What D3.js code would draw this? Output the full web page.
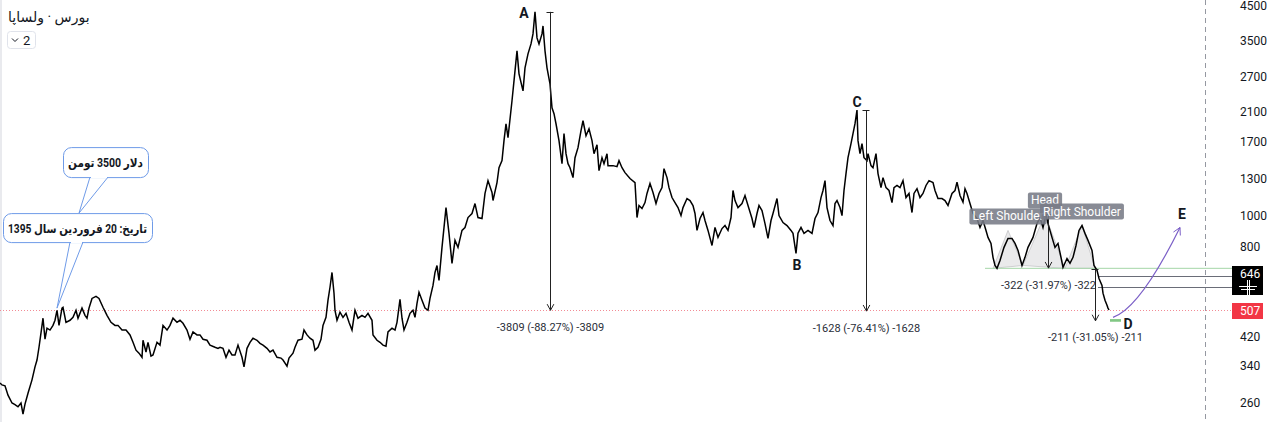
<!DOCTYPE html>
<html><head><meta charset="utf-8">
<script src="https://cdn.jsdelivr.net/npm/d3@7/dist/d3.min.js"></script>
<style>html,body{margin:0;padding:0;background:#fff;overflow:hidden}</style>
</head><body><svg id="c" width="1280" height="422"></svg>
<script>
// ---- data ----
const days=[0,2,5,8,12,15,18,21,23,25,28,32,35,37,39,41,43,45,47,50,53,55,57,59,62,63,66,70,73,76,78,82,85,87,89,92,96,99,103,107,111,115,118,122,126,130,133,136,139,142,143,146,148,151,153,157,160,163,167,170,173,177,180,183,187,190,193,197,200,203,207,210,215,218,
220,223,226,229,232,235,238,242,244,247,250,253,257,260,263,267,270,273,277,281,283,287,289,293,295,298,302,304,307,310,313,315,318,321,323,326,328,330,332,334,335,337,340,343,346,349,352,355,358,362,365,368,372,373,377,380,383,386,388,392,395,397,400,402,404,407,410,413,415,417,419,422,425,428,430,433,435,437,438,
439,442,446,449,452,455,458,462,465,468,472,475,478,482,485,488,492,493,497,499,502,504,506,508,512,514,517,519,523,525,528,531,533,535,537,539,542,543,545,547,550,552,554,556,559,562,564,566,568,570,573,575,578,581,583,586,589,592,594,597,599,602,604,607,608,613,617,619,622,625,630,635,637,639,642,645,647,650,653,656,659,662,664,667,669,672,675,678,681,683,687,690,693,695,697,700,
703,705,708,712,715,718,722,725,728,731,733,735,738,742,745,748,752,754,757,759,762,765,768,771,773,777,779,783,787,791,793,796,798,801,804,808,812,815,818,821,823,825,827,830,833,835,837,840,842,844,846,848,851,853,855,857,858,860,862,864,867,868,871,873,876,878,881,883,886,889,892,894,897,900,903,906,909,912,914,917,920,923,926,929,933,935,938,942,945,948,952,955,957,960,963,965,967,970,973,977,980,983,986,988,991,993,995,997,1000,1004,1008,1012,1015,1018,1022,1025,1028,1033,1037,1040,1043,1046,1048,1052,1055,1058,1061,1063,1067,1070,1073,1076,1079,1082,1085,1088,1092,1094,1097,1099,1102,1103,1105,1107,1108,1109];
const prices=[300,296,294,275,260,257,253,260,240,258,279,307,337,354,388,430,478,411,445,439,454,471,506,454,514,517,464,471,481,506,478,514,488,478,514,551,559,551,517,488,464,454,454,439,439,424,402,380,372,361,408,375,402,364,367,402,394,454,439,454,478,464,471,461,439,411,433,424,424,411,408,394,388,385,
388,385,361,380,367,367,394,361,337,385,402,414,408,399,394,385,375,380,361,359,354,339,359,372,388,408,411,439,424,414,408,380,388,411,454,481,544,597,664,572,506,471,499,481,495,464,439,506,478,488,481,495,471,424,408,402,394,391,433,445,439,464,547,478,439,464,495,506,481,532,576,544,514,506,551,605,664,698,660,
627,795,1058,879,709,836,795,898,917,985,1014,1089,985,978,1171,1284,1179,1113,1266,1410,1482,1711,1932,1748,2278,2629,3261,2765,2447,2886,3192,3427,3682,4315,3578,3427,3682,3899,3261,2886,2573,2166,2076,1932,1711,1450,1799,1558,1450,1409,1312,1514,1627,1838,1974,1773,1864,1711,1558,1660,1380,1514,1450,1558,1430,1430,1420,1482,1409,1360,1303,1266,985,1074,1051,1097,1171,1257,1179,1089,1171,1221,1399,1312,1221,1137,1097,1058,999,1058,1129,1113,1074,1014,898,978,
1021,964,898,806,917,854,910,930,898,985,1196,1113,1058,1089,1154,1074,978,917,1014,1074,1036,943,848,964,1014,1129,999,950,930,898,879,761,880,917,879,898,879,978,1021,1137,1196,1284,1058,964,930,1089,1113,1058,999,1196,1351,1514,1675,1799,1932,2131,1711,1558,1675,1514,1482,1558,1430,1409,1558,1351,1221,1312,1221,1196,1097,1221,1240,1221,1284,1137,1171,1021,1171,1212,1137,1171,1240,1284,1266,1196,1129,1129,1113,1074,1171,1196,1270,1154,1100,1212,1171,1089,1014,978,917,964,898,854,818,740,698,684,724,795,848,848,818,778,698,740,795,854,943,985,917,1007,943,854,795,818,740,689,734,709,740,806,898,930,879,836,778,698,674,636,605,572,544,525,514,507];
const yTicks=[4500,3500,2700,2100,1700,1300,1000,800,420,340,260];
const lastPrice=507;
const crossPrice=646;
const measDays=[550,866,1048,1095];
const measFrom=[4315,2131,1007,680];
const measTo=[506,503,685,469];
const measText=["-3809 (-88.27%) -3809","-1628 (-76.41%) -1628","-322 (-31.97%) -322","-211 (-31.05%) -211"];
const waveText=["A","B","C","D","E"];
const waveDays=[524,797,857,1128,1182];
const wavePrices=[4280,698,2262,458,1007];
const hsDays=[993,1008,1023,1045,1065,1082,1095];
const hsPrices=[684,898,698,1007,684,930,684];
const hsText=["Left Shoulder","Head","Right Shoulder"];
const necklineStart=985, necklinePrice=684;
const rangeStart=1098, rangeLines=[646,596];
const targetBox=[1110,1121,475,466];
const curveDays=[1113,1140,1180];
const curvePrices=[481,514,917];
const calloutDay=57, calloutPrice=514;
const calloutText=["دلار 3500 تومن","تاریخ: 20 فروردین سال 1395"];
const title="بورس · ولساپا";

// ---- setup ----
const svg=d3.select('#c');
const AX=1232;
const x=d3.scaleLinear().domain([0,1232]).range([0,1232]);
const y=d3.scaleLog().domain([4500,260]).range([6,403]);
const FONT="Roboto, 'DejaVu Sans', sans-serif";

svg.append('rect').attr('width',1280).attr('height',422).attr('fill','#fff');
svg.append('rect').attr('x',0).attr('y',0).attr('width',2).attr('height',422).attr('fill','#e9eaee');

// crosshair vertical
svg.append('line').attr('x1',1205.5).attr('x2',1205.5).attr('y1',0).attr('y2',422)
  .attr('stroke','#9598a1').attr('stroke-dasharray','5,4').attr('stroke-width',1);

// last price dotted line
svg.append('line').attr('x1',0).attr('x2',AX).attr('y1',Math.round(y(lastPrice))+0.5).attr('y2',Math.round(y(lastPrice))+0.5)
  .attr('stroke','#f28b95').attr('stroke-dasharray','1,2').attr('stroke-width',1);

// H&S triangles
const hs=svg.append('g');
[[0,1,2],[2,3,4],[4,5,6]].forEach(t=>{
  hs.append('path').attr('d','M'+t.map(i=>x(hsDays[i])+','+y(hsPrices[i])).join('L')+'Z')
    .attr('fill','rgba(170,170,175,0.25)').attr('stroke','rgba(160,160,165,0.45)').attr('stroke-width',1);
});

// neckline
svg.append('line').attr('x1',x(necklineStart)).attr('x2',AX).attr('y1',y(necklinePrice)).attr('y2',y(necklinePrice))
  .attr('stroke','#a5d6a7').attr('stroke-width',1);
rangeLines.forEach(p=>{
  svg.append('line').attr('x1',x(rangeStart)).attr('x2',AX).attr('y1',Math.round(y(p))+0.5).attr('y2',Math.round(y(p))+0.5)
   .attr('stroke','#6a6d78').attr('stroke-width',1);
});

// price series
const pts=days.map((d,i)=>[d,prices[i]]);
svg.append('path').datum(pts)
  .attr('d',d3.line().x(d=>x(d[0])).y(d=>y(d[1])))
  .attr('fill','none').attr('stroke','#000').attr('stroke-width',1.5).attr('stroke-linejoin','miter');

// arrowhead helper
function arrowHead(g,tx,ty,ang,L,a,color){
  const p1=[tx-L*Math.cos(ang-a),ty-L*Math.sin(ang-a)];
  const p2=[tx-L*Math.cos(ang+a),ty-L*Math.sin(ang+a)];
  g.append('path').attr('d',`M${p1}L${tx},${ty}L${p2}`).attr('fill','none').attr('stroke',color).attr('stroke-width',1);
}

// measurements
const mg=svg.append('g');
measDays.forEach((d,i)=>{
  const xx=Math.round(x(d))+0.5, y1=y(measFrom[i]), y2=y(measTo[i]);
  mg.append('line').attr('x1',xx).attr('x2',xx).attr('y1',y1).attr('y2',y2).attr('stroke','#222').attr('stroke-width',1);
  mg.append('line').attr('x1',xx-4).attr('x2',xx+3).attr('y1',Math.round(y1)+0.5).attr('y2',Math.round(y1)+0.5).attr('stroke','#222');
  arrowHead(mg,xx,y2,Math.PI/2,7,0.5,'#222');
  mg.append('text').attr('x',xx).attr('y',y2+17).attr('text-anchor','middle').attr('dominant-baseline','central')
    .attr('font-family',FONT).attr('font-size',11).attr('fill','#2a2e39').text(measText[i]);
});

// H&S labels
hsText.forEach((t,k)=>{
  const i=k*2+1;
  const g=svg.append('g');
  const tx=x(hsDays[i]), ty=y(hsPrices[i])-14;
  const txt=g.append('text').attr('x',tx).attr('y',ty).attr('text-anchor','middle').attr('dominant-baseline','central')
    .attr('font-family',FONT).attr('font-size',12).attr('fill','#fff').text(t);
  const w=txt.node().getComputedTextLength();
  g.insert('rect','text').attr('x',tx-w/2-3).attr('y',ty-8).attr('width',w+6).attr('height',16).attr('rx',2)
    .attr('fill','rgba(120,123,134,0.88)');
});

// target box
svg.append('rect').attr('x',x(targetBox[0])).attr('y',y(targetBox[2])).attr('width',x(targetBox[1])-x(targetBox[0]))
  .attr('height',y(targetBox[3])-y(targetBox[2])).attr('fill','#81c784');

// purple curve
const cp=d3.path();
cp.moveTo(x(curveDays[0]),y(curvePrices[0]));
cp.quadraticCurveTo(x(curveDays[1]),y(curvePrices[1]),x(curveDays[2]),y(curvePrices[2]));
svg.append('path').attr('d',cp.toString()).attr('fill','none').attr('stroke','#7b5fc7').attr('stroke-width',1.2);
const ang=Math.atan2(y(curvePrices[2])-y(curvePrices[1]),x(curveDays[2])-x(curveDays[1]));
arrowHead(svg,x(curveDays[2]),y(curvePrices[2]),ang,8,0.5,'#7b5fc7');

// wave letters
waveText.forEach((t,i)=>{
  svg.append('text').attr('x',x(waveDays[i])).attr('y',y(wavePrices[i])).attr('text-anchor','middle').attr('dominant-baseline','central')
   .attr('font-family',FONT).attr('font-size',14).attr('font-weight','bold').attr('fill','#131722').text(t);
});

// callouts
const ax=x(calloutDay), ay=y(calloutPrice);
function callout(bx,by,bw,bh,t1,t2,tip,text){
  const g=svg.append('g');
  g.append('path').attr('d',`M${t1},${by+bh}L${tip[0]},${tip[1]}L${t2},${by+bh}Z`).attr('fill','#fff').attr('stroke','#6f9be8').attr('stroke-width',1);
  g.append('rect').attr('x',bx+0.5).attr('y',by+0.5).attr('width',bw).attr('height',bh).attr('rx',8).attr('fill','#fff').attr('stroke','#6f9be8');
  g.append('rect').attr('x',t1+1).attr('y',by+bh-1).attr('width',t2-t1-2).attr('height',2).attr('fill','#fff');
  const tx=g.append('text').attr('x',bx+bw/2).attr('y',by+bh/2+1).attr('text-anchor','middle').attr('dominant-baseline','central')
    .attr('font-family',FONT).attr('font-size',12).attr('font-weight','bold').attr('fill','#131722').text(text);
  const w=tx.node().getComputedTextLength();
  if(w>bw-10) tx.attr('textLength',bw-10).attr('lengthAdjust','spacingAndGlyphs');
}
callout(ax+6,ay-161,85,30,ax+33,ax+51,[ax+22,ay-95],calloutText[0]);
callout(ax-54,ay-95,149,29,ax+13,ax+26,[ax,ay],calloutText[1]);

// axis
const axis=d3.axisRight(y).tickValues(yTicks).tickSize(0).tickPadding(0).tickFormat(d3.format('d'));
const ag=svg.append('g').attr('transform',`translate(1240,0)`).call(axis);
ag.select('.domain').remove();
ag.selectAll('text').attr('font-family',FONT).attr('font-size',12).attr('fill','#131722');

// price labels
const cy=Math.round(y(crossPrice));
svg.append('rect').attr('x',AX).attr('y',cy-10).attr('width',31).attr('height',29).attr('fill','#000');
svg.append('text').attr('x',1240).attr('y',cy-2).attr('dominant-baseline','central').attr('font-family',FONT).attr('font-size',12).attr('fill','#fff').text(crossPrice);
const ic=svg.append('g').attr('stroke','#fff').attr('stroke-width',1).attr('fill','none');
ic.append('line').attr('x1',1239).attr('x2',1257).attr('y1',cy+10.5).attr('y2',cy+10.5);
ic.append('line').attr('x1',1241).attr('x2',1255).attr('y1',cy+13.5).attr('y2',cy+13.5);
ic.append('line').attr('x1',1247.5).attr('x2',1247.5).attr('y1',cy+4).attr('y2',cy+20);
ic.append('line').attr('x1',1249.5).attr('x2',1249.5).attr('y1',cy+4).attr('y2',cy+20);
const ry=Math.round(y(lastPrice));
svg.append('rect').attr('x',AX).attr('y',ry-7).attr('width',31).attr('height',16).attr('fill','#f23645');
svg.append('text').attr('x',1240).attr('y',ry+1).attr('dominant-baseline','central').attr('font-family',FONT).attr('font-size',12).attr('fill','#fff').text(lastPrice);

// title and selector
svg.append('text').attr('x',8).attr('y',22).attr('font-family',FONT).attr('font-size',14).attr('fill','#131722').text(title);
svg.append('rect').attr('x',7.5).attr('y',31.5).attr('width',28).attr('height',17).attr('rx',3).attr('fill','#fff').attr('stroke','#e0e3eb');
svg.append('path').attr('d','M12,38.5l3,3l3,-3').attr('fill','none').attr('stroke','#131722').attr('stroke-width',1);
svg.append('text').attr('x',23).attr('y',40.5).attr('dominant-baseline','central').attr('font-family',FONT).attr('font-size',13).attr('fill','#131722').text('2');
</script></body></html>
